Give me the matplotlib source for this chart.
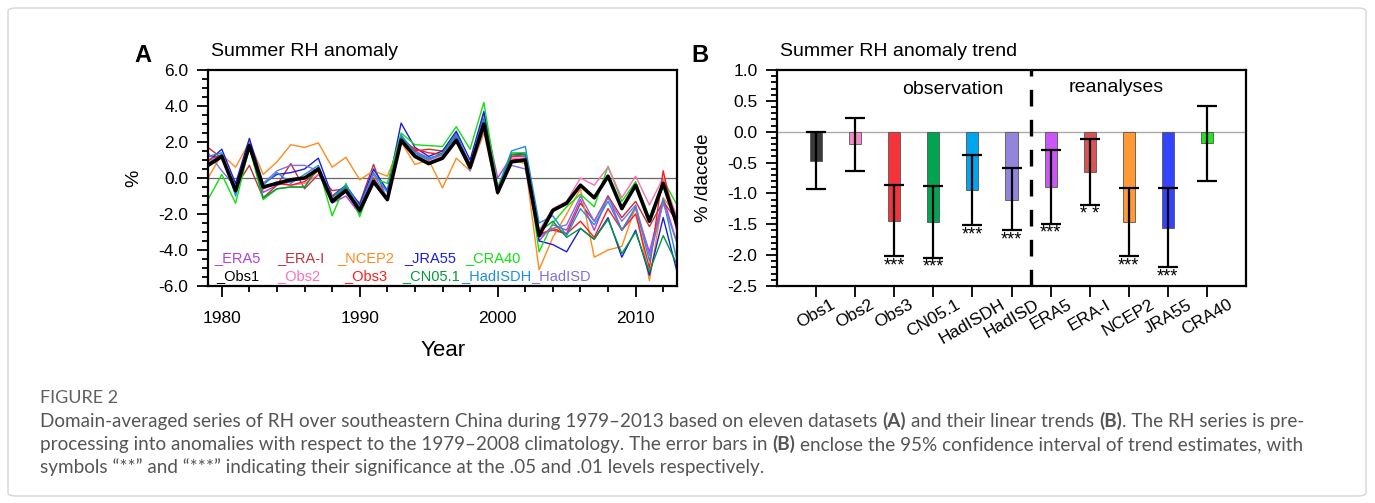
import matplotlib
matplotlib.use('Agg')
import matplotlib.pyplot as plt
from matplotlib.patches import FancyBboxPatch
from matplotlib.ticker import MultipleLocator, FormatStrFormatter

plt.rcParams['font.family'] = ['Liberation Sans', 'DejaVu Sans']
plt.rcParams['axes.unicode_minus'] = False

# ---- data: panel A, summer RH anomaly (%), 1979-2013 ----
years = list(range(1979, 2014))

obs1 = [0.7, 1.2, -0.7, 1.8, -0.5, -0.3, -0.1, 0.0, 0.5, -1.3,
        -0.7, -1.8, -0.2, -1.2, 2.1, 1.2, 0.8, 1.1, 2.1, 0.6,
        3.0, -0.8, 0.9, 1.0, -3.2, -1.8, -1.4, -0.4, -1.1, 0.1,
        -1.7, -0.4, -2.4, -0.3, -2.6]
obs2 = [0.9, 1.2, -0.6, 1.7, -0.6, -0.2, -0.4, -0.3, 0.2, -1.0,
        -0.6, -1.7, -0.1, -1.2, 2.2, 1.2, 0.9, 1.2, 2.2, 0.5,
        2.9, -0.7, 1.1, 1.1, -2.9, -1.7, -1.3, 0.0, -0.4, 0.6,
        -1.1, 0.1, -1.5, 0.0, -2.2]
obs3 = [1.0, 1.3, -0.8, 1.8, -0.6, -0.3, -0.4, -0.2, 0.4, -1.0,
        -0.6, -1.7, 0.0, -1.2, 2.2, 1.6, 1.4, 1.3, 2.4, 0.6,
        3.1, -0.8, 1.2, 1.3, -3.2, -2.8, -3.1, -2.4, -3.3, -1.7,
        -2.9, -2.0, -5.0, 0.4, -3.0]
cn051 = [0.8, 1.3, -0.8, 1.8, -1.1, -0.6, -0.5, -0.5, 0.6, -1.2,
         -0.5, -1.9, -0.1, -1.2, 2.3, 1.4, 1.0, 1.4, 2.4, 0.7,
         3.3, -0.7, 1.3, 1.3, -3.0, -2.4, -3.3, -2.8, -3.4, -2.3,
         -4.2, -3.0, -5.2, -3.2, -4.8]
hadisdh = [1.2, 1.4, -1.0, 1.9, -0.4, 0.3, -0.3, 0.2, 0.7, -1.1,
           -0.4, -1.6, 0.3, -0.8, 2.4, 1.4, 1.1, 1.3, 2.4, 0.7,
           3.2, -0.6, 1.5, 1.75, -2.5, -2.1, -3.2, -1.7, -2.6, -1.3,
           -2.9, -1.6, -4.6, -1.2, -4.6]
hadisd = [1.4, 0.4, -0.5, 1.6, -0.3, 0.4, 0.7, 0.7, 0.4, -1.3,
          -0.7, -1.7, 0.2, -1.1, 2.2, 1.3, 1.0, 1.3, 2.2, 0.4,
          2.7, -0.6, 0.7, 0.5, -3.3, -2.8, -2.6, -1.0, -2.4, -1.1,
          -2.4, -1.5, -4.3, -1.4, -3.6]
era5 = [1.2, 1.2, -0.6, 1.8, -0.8, -0.4, -0.2, 0.0, 0.5, -1.4,
        -1.0, -2.0, -0.3, -1.2, 2.3, 1.5, 1.1, 1.3, 2.5, 0.5,
        3.6, 0.0, 1.2, 1.2, -3.5, -2.6, -2.9, -1.2, -2.9, -1.0,
        -2.9, -1.7, -4.1, -1.1, -3.6]
erai = [1.7, 1.1, -0.5, 0.7, -1.1, -0.4, 0.8, -0.6, 0.2, -0.7,
        -0.6, -1.4, 0.75, -1.25, 2.1, 1.5, 1.6, 1.5, 2.3, 0.8,
        3.0, -0.9, 1.0, 1.1, -3.1, -2.9, -3.1, -1.4, -2.4, -1.0,
        -2.2, -1.3, -2.7, -1.3, -2.4]
ncep2 = [0.0, 1.3, 0.6, 2.0, 0.2, 0.9, 1.85, 1.7, 1.95, 0.6,
         1.15, -0.1, 0.4, 0.1, 2.0, 0.75, 1.0, -0.55, 1.1, 0.4,
         2.5, -0.9, 1.0, 0.8, -5.1, -3.3, -2.0, -0.6, -4.4, -4.0,
         -3.8, -1.6, -5.7, -1.1, -2.1]
jra55 = [0.9, 1.6, -0.3, 2.2, -0.3, 0.2, 0.3, 0.5, 1.1, -1.0,
         -0.4, -1.5, 0.5, -0.7, 3.05, 1.7, 1.2, 1.5, 2.6, 1.0,
         3.7, -0.7, 1.3, 1.4, -3.5, -3.7, -4.1, -2.8, -3.4, -2.2,
         -4.4, -2.9, -5.4, -2.2, -5.2]
cra40 = [-1.2, 0.2, -1.4, 1.7, -1.2, -0.6, -0.5, -0.5, 0.6, -2.1,
         -0.3, -2.15, 0.0, -0.3, 2.5, 1.85, 1.8, 1.75, 2.85, 1.6,
         4.2, -0.5, 1.4, 1.4, -4.1, -2.5, -1.6, -0.9, -1.6, 0.65,
         -1.3, -0.2, -2.2, -0.1, -1.5]

# ---- data: panel B, trends (%/decade) with 95% CI ----
datasets = ["Obs1", "Obs2", "Obs3", "CN05.1", "HadISDH", "HadISD",
            "ERA5", "ERA-I", "NCEP2", "JRA55", "CRA40"]
trend = [-0.47, -0.20, -1.44, -1.46, -0.95, -1.10, -0.89, -0.65, -1.47, -1.56, -0.19]
ci_low = [-0.93, -0.63, -2.01, -2.04, -1.51, -1.60, -1.49, -1.19, -2.01, -2.20, -0.80]
ci_high = [0.0, 0.23, -0.86, -0.88, -0.38, -0.58, -0.29, -0.11, -0.92, -0.91, 0.42]
signif = ["", "", "***", "***", "***", "***", "***", "* *", "***", "***", ""]

series = {"Obs1": obs1, "Obs2": obs2, "Obs3": obs3, "CN05.1": cn051,
          "HadISDH": hadisdh, "HadISD": hadisd, "ERA5": era5, "ERA-I": erai,
          "NCEP2": ncep2, "JRA55": jra55, "CRA40": cra40}
line_col = {"Obs1": "black", "Obs2": "#ff6eb4", "Obs3": "#ff1a1a", "CN05.1": "#009a3a",
            "HadISDH": "#1a90e0", "HadISD": "#8070d8", "ERA5": "#b23fe0", "ERA-I": "#c0303c",
            "NCEP2": "#ff8a1c", "JRA55": "#1c1ce0", "CRA40": "#10e010"}
bar_col = ["#3a3a3a", "#f48cc8", "#f5333a", "#00a550", "#00a5f0", "#9485dc",
           "#cc55f5", "#d95555", "#ff9933", "#3344ff", "#22e622"]

W, H = 1375, 503
fig = plt.figure(figsize=(W / 100, H / 100), dpi=100)

def fx(px):
    return px / W

def fy(py):
    return 1 - py / H

# ---------------- panel A ----------------
ax1 = fig.add_axes([fx(208), fy(286), 469 / W, 216 / H])
ax1.axhline(0, color='#666666', lw=0.9, zorder=1)
for name in ["ERA5", "ERA-I", "NCEP2", "JRA55", "CRA40", "Obs2", "Obs3",
             "CN05.1", "HadISDH", "HadISD"]:
    ax1.plot(years, series[name], color=line_col[name], lw=1.0, zorder=2)
ax1.plot(years, obs1, color='black', lw=2.6, zorder=3)
ax1.set_xlim(1979, 2013)
ax1.set_ylim(-6, 6)
ax1.xaxis.set_major_locator(MultipleLocator(10))
ax1.xaxis.set_minor_locator(MultipleLocator(2))
ax1.yaxis.set_major_locator(MultipleLocator(2))
ax1.yaxis.set_minor_locator(MultipleLocator(0.5))
ax1.yaxis.set_major_formatter(FormatStrFormatter('%.1f'))

leg_row1 = ["ERA5", "ERA-I", "NCEP2", "JRA55", "CRA40"]
leg_x1 = [214, 277, 337, 404, 465]
leg_row2 = ["Obs1", "Obs2", "Obs3", "CN05.1", "HadISDH", "HadISD"]
leg_x2 = [216, 277, 344, 402, 461, 531]
for name, px in zip(leg_row1, leg_x1):
    ax1.text((px - 208) / 469, 0.13, "_" + name, color=line_col[name],
             fontsize=10.5, transform=ax1.transAxes, va='center', ha='left')
for name, px in zip(leg_row2, leg_x2):
    ax1.text((px - 208) / 469, 0.046, "_" + name, color=line_col[name],
             fontsize=10.5, transform=ax1.transAxes, va='center', ha='left')

# ---------------- panel B ----------------
ax2 = fig.add_axes([fx(777), fy(286), 469 / W, 216 / H])
xpos = list(range(len(datasets)))
ax2.axhline(0, color='#aaaaaa', lw=1.0, zorder=1)
ax2.bar(xpos, trend, width=0.31, color=bar_col, edgecolor='#555555', linewidth=0.6, zorder=2)
yerr = [[t - lo for t, lo in zip(trend, ci_low)], [hi - t for t, hi in zip(trend, ci_high)]]
ax2.errorbar(xpos, trend, yerr=yerr, fmt='none', ecolor='black', elinewidth=1.6,
             capsize=7, capthick=1.6, zorder=3)
for i, s in enumerate(signif):
    if s:
        ax2.text(i, ci_low[i] - 0.02, s, ha='center', va='top', fontsize=13)
ax2.axvline(5.5, color='black', lw=2.4, linestyle=(0, (5, 4)), zorder=4)
ax2.set_xlim(-1, 11)
ax2.set_ylim(-2.5, 1.0)
ax2.yaxis.set_major_locator(MultipleLocator(0.5))
ax2.yaxis.set_minor_locator(MultipleLocator(0.1))
ax2.yaxis.set_major_formatter(FormatStrFormatter('%.1f'))
ax2.set_xticks(xpos)
ax2.set_xticklabels(datasets, rotation=30, ha='center', fontsize=12.5)

for ax in (ax1, ax2):
    for sp in ax.spines.values():
        sp.set_linewidth(1.6)
    ax.tick_params(which='both', direction='out', top=False, right=False, width=1.3)
    ax.tick_params(which='major', length=8, labelsize=12.5)
    ax.tick_params(which='minor', length=4.5)
    ax.tick_params(axis='y', pad=6)
ax1.tick_params(axis='x', pad=10)
ax2.tick_params(axis='x', pad=0)

# titles, labels
fig.text(fx(134), fy(55), "A", fontsize=17, fontweight='bold', va='center')
fig.text(fx(211), fy(52), "Summer RH anomaly", fontsize=14, va='center')
fig.text(fx(443), fy(350), "Year", fontsize=16, ha='center', va='center')
fig.text(fx(134), fy(178), "%", fontsize=14, rotation=90, ha='center', va='center')
fig.text(fx(691), fy(55), "B", fontsize=17, fontweight='bold', va='center')
fig.text(fx(780), fy(52), "Summer RH anomaly trend", fontsize=14, va='center')
fig.text(fx(704), fy(178), "% /dacede", fontsize=13.5, rotation=90, ha='center', va='center')
fig.text(fx(953), fy(89), "observation", fontsize=14, ha='center', va='center')
fig.text(fx(1116), fy(87), "reanalyses", fontsize=14, ha='center', va='center')

# ---------------- caption ----------------
cap_font = ['Lato', 'DejaVu Sans']
cap_col = '#555555'
fig.canvas.draw()
renderer = fig.canvas.get_renderer()

line1 = [("Domain-averaged series of RH over southeastern China during 1979\u20132013 based on eleven datasets", False, True),
         ("(A)", True, True), ("and their linear trends", False, True), ("(B)", True, False),
         (". The RH series is pre-", False, False)]
line2 = [("processing into anomalies with respect to the 1979\u20132008 climatology. The error bars in", False, True),
         ("(B)", True, True),
         ("enclose the 95% confidence interval of trend estimates, with", False, False)]
line3 = [("symbols \u201c**\u201d and \u201c***\u201d indicating their significance at the .05 and .01 levels respectively.", False, False)]

def text_w(s, fs, bold=False):
    t = fig.text(0, 0, s, fontsize=fs, family=cap_font,
                 fontweight='bold' if bold else 'normal')
    w = t.get_window_extent(renderer).width
    t.remove()
    return w

def line_w(parts, fs):
    sw = text_w("a a", fs) - text_w("aa", fs)
    return sum(text_w(s, fs, b) + (sw if sp else 0) for s, b, sp in parts)

# the first caption line runs from x=40 to about x=1298
cap_fs = 12 * 1258 / line_w(line1, 12)
space_w = text_w("a a", cap_fs) - text_w("aa", cap_fs)

def put_line(py, parts, px=40):
    x = px
    for txt, bold, sp in parts:
        t = fig.text(fx(x), fy(py), txt, fontsize=cap_fs, family=cap_font, color=cap_col,
                     fontweight='bold' if bold else 'normal', va='baseline', ha='left')
        x += t.get_window_extent(renderer).width + (space_w if sp else 0)

fig.text(fx(40), fy(403), "FIGURE 2", fontsize=13, family=cap_font, color='#606060', va='baseline')
put_line(427, line1)
put_line(450, line2)
put_line(473, line3)

frame = FancyBboxPatch((fx(8), fy(496)), (1366 - 8) / W, (496 - 8) / H,
                       boxstyle="round,pad=0,rounding_size=0.006", transform=fig.transFigure,
                       facecolor='none', edgecolor='#d5d5d5', lw=1.0)
fig.patches.append(frame)

fig.savefig('out.png', dpi=100)
